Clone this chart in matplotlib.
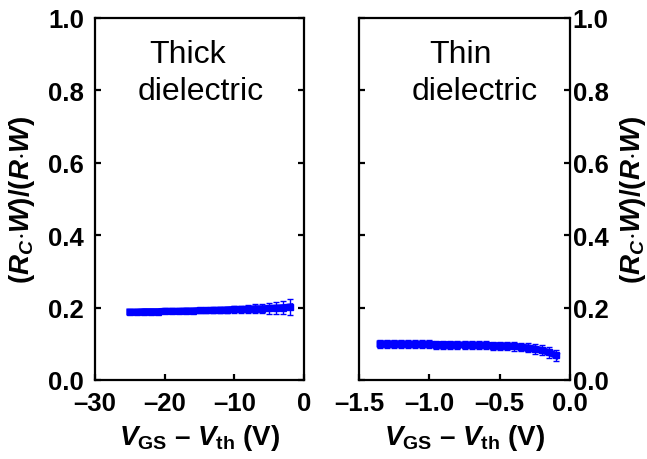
import matplotlib
matplotlib.use("Agg")
import matplotlib.pyplot as plt
import numpy as np

plt.rcParams['font.family'] = ['Liberation Sans', 'DejaVu Sans']
plt.rcParams['mathtext.fontset'] = 'custom'
plt.rcParams['mathtext.rm'] = 'Liberation Sans:bold'
plt.rcParams['mathtext.it'] = 'Liberation Sans:bold:italic'
plt.rcParams['mathtext.bf'] = 'Liberation Sans:bold'
plt.rcParams['axes.unicode_minus'] = False

# Thick dielectric data
thick_x = [-25, -24, -23, -22, -21, -20, -19, -18, -17, -16, -15, -14,
           -13, -12, -11, -10, -9, -8, -7, -6, -5, -4, -3, -2]
thick_y = [0.188, 0.188, 0.189, 0.189, 0.189, 0.190, 0.190, 0.190, 0.191, 0.191, 0.192, 0.192,
           0.193, 0.193, 0.194, 0.195, 0.195, 0.196, 0.197, 0.197, 0.198, 0.199, 0.200, 0.202]
thick_err = [0.004, 0.004, 0.004, 0.004, 0.005, 0.005, 0.005, 0.005, 0.006, 0.006, 0.006, 0.007,
             0.007, 0.008, 0.008, 0.009, 0.010, 0.011, 0.012, 0.013, 0.015, 0.017, 0.019, 0.022]

# Thin dielectric data
thin_x = [-1.35, -1.30, -1.25, -1.20, -1.15, -1.10, -1.05, -1.00, -0.95, -0.90, -0.85, -0.80, -0.75,
          -0.70, -0.65, -0.60, -0.55, -0.50, -0.45, -0.40, -0.35, -0.30, -0.25, -0.20, -0.15, -0.10]
thin_y = [0.100, 0.100, 0.100, 0.100, 0.099, 0.099, 0.099, 0.099, 0.098, 0.098, 0.098, 0.097, 0.097,
          0.097, 0.096, 0.096, 0.095, 0.095, 0.094, 0.093, 0.091, 0.089, 0.086, 0.082, 0.076, 0.068]
thin_err = [0.011, 0.011, 0.011, 0.011, 0.011, 0.011, 0.011, 0.011, 0.011, 0.011, 0.011, 0.011, 0.011,
            0.011, 0.011, 0.011, 0.011, 0.011, 0.012, 0.012, 0.012, 0.013, 0.013, 0.014, 0.015, 0.016]

thick_xticks = [-30, -20, -10, 0]
thick_xlabels = ['\u201330', '\u201320', '\u201310', '0']
thin_xticks = [-1.5, -1.0, -0.5, 0.0]
thin_xlabels = ['\u20131.5', '\u20131.0', '\u20130.5', '0.0']
yticks = [0.0, 0.2, 0.4, 0.6, 0.8, 1.0]
ylabels = ['0.0', '0.2', '0.4', '0.6', '0.8', '1.0']

fig = plt.figure(figsize=(6.47, 4.60), dpi=100)
ax1 = fig.add_axes([95/647, 1-381/460, 209/647, 362/460])
ax2 = fig.add_axes([359/647, 1-381/460, 211/647, 362/460])

blue = '#0000ff'
ylab = r'$(R_C{\cdot}W)/(R{\cdot}W)$'
xlab = r'$V_{\rm GS}$' + ' \u2013 ' + r'$V_{\rm th}$ (V)'

TICKFS = 18.5
for ax, x, y, e, xt, xl, xlim in [
        (ax1, thick_x, thick_y, thick_err, thick_xticks, thick_xlabels, (-30, 0)),
        (ax2, thin_x, thin_y, thin_err, thin_xticks, thin_xlabels, (-1.5, 0))]:
    ax.errorbar(x, y, yerr=e, color=blue, ecolor=blue, lw=5, marker='s', ms=4.5,
                elinewidth=1.0, capsize=2.5, capthick=1.0)
    ax.set_xlim(*xlim)
    ax.set_ylim(0, 1)
    ax.set_xticks(xt)
    ax.set_xticklabels(xl, fontsize=TICKFS, fontweight='bold')
    ax.set_yticks(yticks)
    for s in ax.spines.values():
        s.set_linewidth(1.6)
    ax.tick_params(direction='in', length=4, width=1.6, top=False,
                   left=True, right=True)
    ax.tick_params(axis='x', pad=8)
    ax.set_xlabel(xlab, fontsize=20, fontweight='bold', labelpad=5)

ax1.set_yticklabels(ylabels, fontsize=TICKFS, fontweight='bold')
ax1.tick_params(axis='y', labelleft=True, labelright=False, pad=8)
ax1.set_ylabel(ylab, fontsize=20, labelpad=8)

ax2.set_yticklabels(ylabels, fontsize=TICKFS, fontweight='bold')
ax2.tick_params(axis='y', labelleft=False, labelright=True, pad=2)
ax2.yaxis.set_label_position('right')
ax2.set_ylabel(ylab, fontsize=20, labelpad=7)

fig.text(188/647, 1-55/460, 'Thick', fontsize=23, ha='center', va='center')
fig.text(201/647, 1-92/460, 'dielectric', fontsize=23, ha='center', va='center')
fig.text(460/647, 1-55/460, 'Thin', fontsize=23, ha='center', va='center')
fig.text(475/647, 1-92/460, 'dielectric', fontsize=23, ha='center', va='center')

fig.savefig('out.png', dpi=100)
